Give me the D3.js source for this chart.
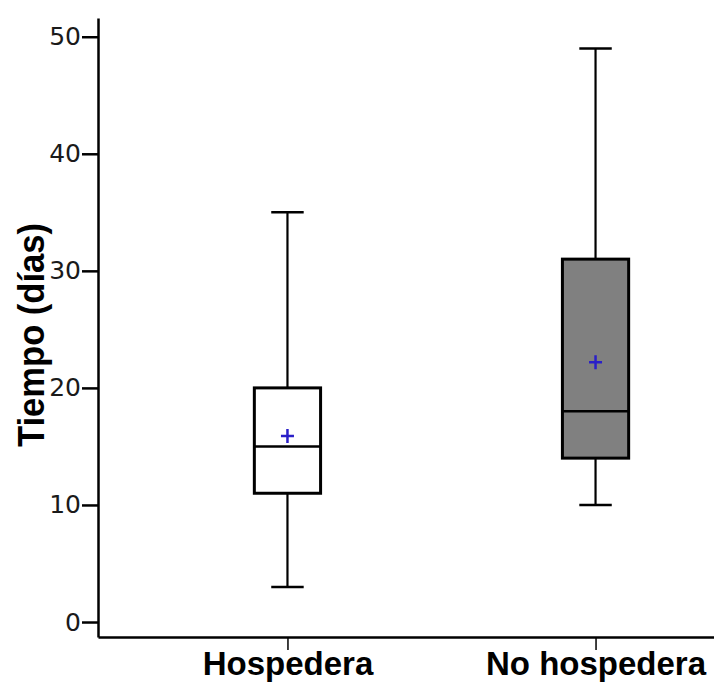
<!DOCTYPE html>
<html>
<head>
<meta charset="utf-8">
<script src="https://cdn.jsdelivr.net/npm/d3@7"></script>
<style>
  body { margin: 0; background: #fff; }
  svg { display: block; }
</style>
</head>
<body>
<div id="main"></div>
<script>
// box plot data
const categories = ["Hospedera", "No hospedera"];
const whiskerLow = [3, 10];
const q1 = [11, 14];
const median = [15, 18];
const q3 = [20, 31];
const whiskerHigh = [35, 49];
const means = [15.9, 22.2];
const boxFill = ["#ffffff", "#808080"];
const yTicks = [0, 10, 20, 30, 40, 50];

const width = 714;
const height = 684;

const svg = d3.select("#main")
    .append("svg")
    .attr("width", width)
    .attr("height", height);

const y = d3.scaleLinear()
    .domain([-1.28, 51.6])
    .range([637, 18]);

const x = d3.scalePoint()
    .domain(categories)
    .range([98, 785])
    .padding(0.615);

const boxWidth = x.step() * 0.215;
const capWidth = boxWidth * 0.49;

// y axis
const yAxis = svg.append("g")
    .attr("transform", "translate(98,0)")
    .call(d3.axisLeft(y).tickValues(yTicks).tickSize(16).tickPadding(1).tickSizeOuter(0));
yAxis.select(".domain").attr("stroke", "#000").attr("stroke-width", 2.5);
yAxis.selectAll(".tick line").attr("stroke", "#000").attr("stroke-width", 2.5);
yAxis.selectAll(".tick text")
    .attr("font-family", "DejaVu Sans, Verdana, sans-serif")
    .attr("font-size", 25)
    .attr("fill", "#1a1a1a");

// x axis
const xAxis = svg.append("g")
    .attr("transform", "translate(0,637)")
    .call(d3.axisBottom(x).tickSize(13).tickSizeOuter(0));
xAxis.select(".domain").attr("stroke", "#000").attr("stroke-width", 2.5);
xAxis.selectAll(".tick line").attr("stroke", "#000").attr("stroke-width", 1.5);
xAxis.selectAll(".tick text")
    .attr("font-family", "Liberation Sans, Arial, sans-serif")
    .attr("font-weight", "bold")
    .attr("font-size", 33)
    .attr("fill", "#000")
    .attr("y", 38)
    .attr("dy", 0);

// y label
svg.append("text")
    .attr("transform", "translate(44,335) rotate(-90)")
    .attr("text-anchor", "middle")
    .attr("font-family", "Liberation Sans, Arial, sans-serif")
    .attr("font-weight", "bold")
    .attr("font-size", 36)
    .attr("textLength", 224)
    .attr("lengthAdjust", "spacingAndGlyphs")
    .text("Tiempo (días)");

// boxes
const boxes = svg.append("g")
    .selectAll("g")
    .data(categories)
    .join("g")
    .attr("transform", d => "translate(" + x(d) + ",0)");

boxes.append("line")
    .attr("x1", 0).attr("x2", 0)
    .attr("y1", (d, i) => y(whiskerHigh[i]))
    .attr("y2", (d, i) => y(q3[i]))
    .attr("stroke", "#000").attr("stroke-width", 2.2);

boxes.append("line")
    .attr("x1", 0).attr("x2", 0)
    .attr("y1", (d, i) => y(q1[i]))
    .attr("y2", (d, i) => y(whiskerLow[i]))
    .attr("stroke", "#000").attr("stroke-width", 2.2);

boxes.append("line")
    .attr("x1", -capWidth / 2).attr("x2", capWidth / 2)
    .attr("y1", (d, i) => y(whiskerHigh[i]))
    .attr("y2", (d, i) => y(whiskerHigh[i]))
    .attr("stroke", "#000").attr("stroke-width", 2.5);

boxes.append("line")
    .attr("x1", -capWidth / 2).attr("x2", capWidth / 2)
    .attr("y1", (d, i) => y(whiskerLow[i]))
    .attr("y2", (d, i) => y(whiskerLow[i]))
    .attr("stroke", "#000").attr("stroke-width", 2.5);

boxes.append("rect")
    .attr("x", -boxWidth / 2)
    .attr("width", boxWidth)
    .attr("y", (d, i) => y(q3[i]))
    .attr("height", (d, i) => y(q1[i]) - y(q3[i]))
    .attr("fill", (d, i) => boxFill[i])
    .attr("stroke", "#000")
    .attr("stroke-width", 3);

boxes.append("line")
    .attr("x1", -boxWidth / 2).attr("x2", boxWidth / 2)
    .attr("y1", (d, i) => y(median[i]))
    .attr("y2", (d, i) => y(median[i]))
    .attr("stroke", "#000").attr("stroke-width", 2.5);

// mean markers
boxes.append("path")
    .attr("d", (d, i) => {
        const cy = y(means[i]);
        return "M-6.5," + cy + "H6.5M0," + (cy - 7) + "V" + (cy + 7);
    })
    .attr("stroke", "#2a1fc8")
    .attr("stroke-width", 2.5)
    .attr("fill", "none");
</script>
</body>
</html>
